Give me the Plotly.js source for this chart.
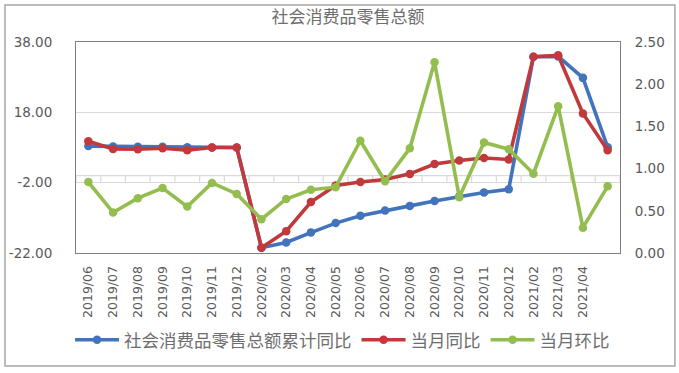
<!DOCTYPE html>
<html>
<head>
<meta charset="utf-8">
<script src="https://cdn.plot.ly/plotly-3.0.1.min.js"></script>
<style>
  html, body { margin: 0; padding: 0; background: #ffffff; }
  #chart { width: 679px; height: 373px; }
</style>
</head>
<body>
<div id="chart"></div>
<script>
// ---- data ----
const months = ["2019/06","2019/07","2019/08","2019/09","2019/10","2019/11","2019/12",
  "2020/02","2020/03","2020/04","2020/05","2020/06","2020/07","2020/08","2020/09",
  "2020/10","2020/11","2020/12","2021/02","2021/03","2021/04","2021/05"];
const tickLabels = ["2019/06","2019/07","2019/08","2019/09","2019/10","2019/11","2019/12",
  "2020/02","2020/03","2020/04","2020/05","2020/06","2020/07","2020/08","2020/09",
  "2020/10","2020/11","2020/12","2021/02","2021/03","2021/04"];
const cumYoY = [8.4, 8.3, 8.2, 8.2, 8.1, 8.0, 8.0, -20.5, -19.0, -16.2, -13.5, -11.4, -9.9,
  -8.6, -7.2, -5.9, -4.8, -3.9, 33.8, 33.9, 27.8, 8.1];
const monthYoY = [9.8, 7.6, 7.5, 7.8, 7.2, 8.0, 8.0, -20.5, -15.8, -7.5, -2.8, -1.8, -1.1,
  0.5, 3.3, 4.3, 5.0, 4.6, 33.8, 34.2, 17.7, 7.2];
const momChg = [0.84, 0.48, 0.65, 0.77, 0.55, 0.83, 0.70, 0.40, 0.64, 0.75, 0.78, 1.33, 0.85,
  1.24, 2.26, 0.66, 1.31, 1.23, 0.94, 1.74, 0.30, 0.79];
const leftTicks = [-22, -2, 18, 38];
const leftTickText = ["-22.00", "-2.00", "18.00", "38.00"];
const rightTicks = [0, 0.5, 1.0, 1.5, 2.0, 2.5];
const rightTickText = ["0.00", "0.50", "1.00", "1.50", "2.00", "2.50"];
const seriesNames = ["社会消费品零售总额累计同比", "当月同比", "当月环比"];
const chartTitle = "社会消费品零售总额";

// ---- styles ----
const cBlue = "#4273BD", cRed = "#C1393B", cGreen = "#93BE4F";
const cjk = "'Noto Sans CJK SC', sans-serif";
const num = "'DejaVu Sans', sans-serif";
const txt = "#595959";

function tr(y, name, color, axis) {
  return {
    x: months, y: y, name: name, type: "scatter", mode: "lines+markers",
    yaxis: axis,
    line: { color: color, width: 3.6 },
    marker: { color: color, size: 8.5, symbol: "circle" },
    cliponaxis: false
  };
}

const data = [
  tr(cumYoY, seriesNames[0], cBlue, "y"),
  tr(monthYoY, seriesNames[1], cRed, "y"),
  tr(momChg, seriesNames[2], cGreen, "y2")
];

// axis line at 0 with category tick marks
const shapes = [
  { type: "line", xref: "paper", yref: "y", x0: 0, x1: 1, y0: 0, y1: 0,
    line: { color: "#D9D9D9", width: 1.2 }, layer: "below" },
  { type: "rect", xref: "paper", yref: "paper", x0: -0.1305, x1: 1.101, y0: -0.5355, y1: 1.1754,
    line: { color: "#A6A6A6", width: 1.5 }, fillcolor: "rgba(0,0,0,0)", layer: "below" }
];
for (let i = 0; i <= months.length; i++) {
  shapes.push({ type: "line", xref: "x", yref: "y", ysizemode: "pixel", yanchor: 0,
    x0: i - 0.5, x1: i - 0.5, y0: 0, y1: -6,
    line: { color: "#D9D9D9", width: 1.2 }, layer: "below" });
}

const layout = {
  width: 679, height: 373,
  margin: { l: 76, r: 59, t: 42, b: 120, pad: 0 },
  paper_bgcolor: "#ffffff", plot_bgcolor: "#ffffff",
  showlegend: true,
  title: { text: chartTitle, x: 0.5, xref: "paper", xanchor: "center",
    y: 1 - 17 / 373, yanchor: "middle",
    font: { family: cjk, size: 17, color: "#6E6E6E" } },
  xaxis: {
    type: "category", range: [-0.5, months.length - 0.5],
    tickvals: tickLabels, ticktext: tickLabels, tickangle: -90,
    ticks: "outside", ticklen: 7, tickcolor: "rgba(0,0,0,0)",
    tickfont: { family: num, size: 12.5, color: txt },
    showgrid: false, showline: true, mirror: true, linecolor: "#7F7F7F", linewidth: 1,
    zeroline: false, fixedrange: true
  },
  yaxis: {
    range: [-22, 38], tickvals: leftTicks, ticktext: leftTickText,
    ticks: "outside", ticklen: 20, tickcolor: "rgba(0,0,0,0)",
    tickfont: { family: num, size: 13.5, color: txt },
    showgrid: true, gridcolor: "#D9D9D9", gridwidth: 1,
    showline: true, mirror: true, linecolor: "#7F7F7F", linewidth: 1,
    zeroline: false, fixedrange: true
  },
  yaxis2: {
    overlaying: "y", side: "right", range: [0, 2.5],
    tickvals: rightTicks, ticktext: rightTickText,
    ticks: "outside", ticklen: 11, tickcolor: "rgba(0,0,0,0)",
    tickfont: { family: num, size: 13.5, color: txt },
    showgrid: false, zeroline: false, showline: false, fixedrange: true
  },
  legend: {
    orientation: "h", x: 0.49, xanchor: "center", y: -0.412, yanchor: "middle",
    font: { family: cjk, size: 17.5, color: "#6E6E6E" },
    itemwidth: 44, tracegroupgap: 0, bgcolor: "rgba(0,0,0,0)"
  },
  shapes: shapes
};

Plotly.newPlot("chart", data, layout, { displayModeBar: false, staticPlot: true });
</script>
</body>
</html>
